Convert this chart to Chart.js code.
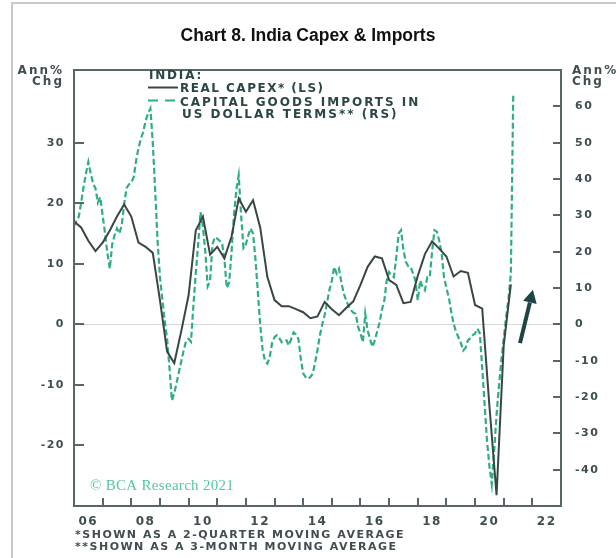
<!DOCTYPE html>
<html>
<head>
<meta charset="utf-8">
<script src="https://cdn.jsdelivr.net/npm/chart.js@4.4.1/dist/chart.umd.min.js"></script>
<style>
  html, body { margin: 0; padding: 0; background: #ffffff; }
  #wrap { position: relative; width: 616px; height: 558px; overflow: hidden; }
  #frame { position: absolute; left: 11px; top: 2px; width: 700px; height: 700px;
           border-left: 2px solid #c9c9c9; border-top: 2px solid #c9c9c9; }
  canvas { position: absolute; left: 0; top: 0; }
</style>
</head>
<body>
<div id="wrap">
  <div id="frame"></div>
  <canvas id="chart" width="616" height="558"></canvas>
</div>
<script>
// India real capex, % y/y, 2-quarter moving average, one value per quarter from Q1 2006
const capexStart = 2006;
const capexValues = [
  17.0, 16.0, 13.8, 12.1,   // 2006
  13.5, 15.5, 17.8, 19.8,   // 2007
  17.8, 13.5, 12.8, 11.8,   // 2008
  4.0, -4.5, -6.4, -1.0,    // 2009
  4.8, 15.5, 17.8, 11.5,    // 2010
  12.8, 10.9, 14.5, 20.8,   // 2011
  18.6, 20.5, 16.0, 7.8,    // 2012
  4.0, 3.0, 3.0, 2.5,       // 2013
  2.0, 1.0, 1.3, 3.7,       // 2014
  2.5, 1.5, 2.7, 3.8,       // 2015
  6.5, 9.5, 11.2, 10.9,     // 2016
  7.3, 6.5, 3.5, 3.7,       // 2017
  8.0, 11.6, 13.7, 12.5,    // 2018
  11.2, 7.9, 8.8, 8.5,      // 2019
  3.2, 2.6, -13.4, -28.2,   // 2020
  -3.5, 6.6                 // 2021
];

// Capital goods imports in US dollar terms, % y/y, 3-month moving average, monthly from Jan 2006
const importsStart = 2006;
const importsValues = [
  27, 28.5, 29.6, 33.5, 37.8, 41.5, 44.7, 41.5, 38.8, 37.4, 33.5, 35,        // 2006
  30, 25, 19.5, 15.3, 22, 24.5, 26.4, 25, 27.3, 33, 37.5, 38.5,              // 2007
  39, 40.5, 45, 48.5, 51, 53, 56, 58, 59.4, 50, 37, 23,                      // 2008
  13, 7, 1, -4, -12, -21, -19, -16, -13, -10, -7, -4.5,                      // 2009
  -4, -4.8, 5, 14, 22, 30.9, 27, 20, 10.5, 12, 22, 24,                       // 2010
  23.6, 23, 22.5, 18, 10, 11.5, 20, 30, 37, 41, 30, 21,                      // 2011
  22, 24.5, 26.4, 25, 18, 9, 0, -7, -10, -10.8, -9, -5,                      // 2012
  -3.5, -3, -3.8, -4.9, -4.5, -4.4, -5.8, -4, -2.2, -2.8, -4, -9.5,          // 2013
  -13.5, -14.5, -15, -14.5, -13.6, -10.5, -7, -3, 0, 2.5, 6, 9.5,            // 2014
  12, 15.8, 14, 15.3, 11.5, 8.5, 6.6, 5, 3.9, 3.2, 2.9, -0.7,                // 2015
  -2.5, -4.9, 2.9, -1.7, -4, -6.2, -4.4, -2, 0.5, 4, 6.6, 12,                // 2016
  14.4, 13.5, 13, 18.5, 25, 25.9, 20.4, 17.2, 16, 15.8, 14, 12.1,            // 2017
  6.6, 12.1, 10.3, 9.4, 13, 13, 20, 25.9, 25.5, 23, 19.5, 13,                // 2018
  10, 7.5, 3.5, 0.2, -2, -3.5, -5, -7.2, -6.5, -4.4, -3.8, -3.0,             // 2019
  -2.5, -1.2, -2.5, -12, -22, -32, -39, -44, -35, -25, -17, -10,             // 2020
  -4, 2, 7, 14, 63.6                                                          // 2021
];

// Axis ticks
const xLabelYears = [2006, 2008, 2010, 2012, 2014, 2016, 2018, 2020, 2022];
const xTickYears = [2007, 2008, 2009, 2010, 2011, 2012, 2013, 2014, 2015, 2016, 2017, 2018, 2019, 2020, 2021, 2022];
const leftTicks = [-20, -10, 0, 10, 20, 30];
const rightTicks = [-40, -30, -20, -10, 0, 10, 20, 30, 40, 50, 60];

const TEXT = '#3f4e50';
const DARK = '#2c4547';
const AXIS = '#56676a';
const GREEN = '#2fae7e';
const CAPEX = '#3a4646';
const tickFont = { family: 'DejaVu Sans', size: 11, weight: 'bold' };

const capexData = capexValues.map((v, i) => ({ x: capexStart + i / 4, y: v }));
const importsData = importsValues.map((v, i) => ({ x: importsStart + i / 12, y: v }));

function drawText(ctx, s, x, y, font, color, align, spacing) {
  ctx.save();
  ctx.font = font;
  ctx.fillStyle = color;
  ctx.textAlign = align;
  ctx.textBaseline = 'middle';
  if ('letterSpacing' in ctx) ctx.letterSpacing = spacing + 'px';
  ctx.fillText(s, x, y);
  ctx.restore();
}

const decorations = {
  id: 'decorations',
  beforeDraw(chart) {
    if ('letterSpacing' in chart.ctx) chart.ctx.letterSpacing = '1.5px';
  },
  afterDraw(chart) {
    const ctx = chart.ctx;
    if ('letterSpacing' in ctx) ctx.letterSpacing = '0px';
    const a = chart.chartArea;
    const xs = chart.scales.x, yl = chart.scales.y, yr = chart.scales.y1;

    // plot box
    ctx.save();
    ctx.strokeStyle = AXIS;
    ctx.lineWidth = 2;
    ctx.strokeRect(a.left, a.top, a.right - a.left, a.bottom - a.top);

    // inward tick marks
    ctx.lineWidth = 2;
    ctx.beginPath();
    leftTicks.forEach(v => {
      const y = Math.round(yl.getPixelForValue(v));
      ctx.moveTo(a.left, y); ctx.lineTo(a.left + 10, y);
    });
    rightTicks.forEach(v => {
      const y = Math.round(yr.getPixelForValue(v));
      ctx.moveTo(a.right - 8, y); ctx.lineTo(a.right, y);
    });
    xTickYears.forEach(v => {
      const x = Math.round(xs.getPixelForValue(v));
      ctx.moveTo(x, a.bottom); ctx.lineTo(x, a.bottom - 8);
    });
    ctx.stroke();

    // arrow pointing to the rebound
    const x0 = xs.getPixelForValue(2021.57), y0 = yl.getPixelForValue(-3.1);
    const x1 = xs.getPixelForValue(2022.02), y1 = yl.getPixelForValue(5.7);
    const ang = Math.atan2(y1 - y0, x1 - x0);
    const head = 13, half = 7;
    const bx = x1 - head * Math.cos(ang), by = y1 - head * Math.sin(ang);
    ctx.strokeStyle = '#1e4446';
    ctx.fillStyle = '#1e4446';
    ctx.lineWidth = 4;
    ctx.lineCap = 'butt';
    ctx.beginPath(); ctx.moveTo(x0, y0); ctx.lineTo(bx, by); ctx.stroke();
    ctx.beginPath();
    ctx.moveTo(x1, y1);
    ctx.lineTo(bx + half * Math.sin(ang), by - half * Math.cos(ang));
    ctx.lineTo(bx - half * Math.sin(ang), by + half * Math.cos(ang));
    ctx.closePath(); ctx.fill();

    // legend samples
    ctx.strokeStyle = CAPEX;
    ctx.lineWidth = 2;
    ctx.beginPath(); ctx.moveTo(148, 87.5); ctx.lineTo(178, 87.5); ctx.stroke();
    ctx.strokeStyle = GREEN;
    ctx.setLineDash([10, 7]);
    ctx.beginPath(); ctx.moveTo(148, 100.5); ctx.lineTo(176, 100.5); ctx.stroke();
    ctx.setLineDash([]);
    ctx.restore();

    const lf = 'bold 12px "DejaVu Sans"';
    drawText(ctx, 'INDIA:', 149, 76, lf, DARK, 'left', 1.8);
    drawText(ctx, 'REAL CAPEX* (LS)', 180, 89, lf, DARK, 'left', 1.5);
    drawText(ctx, 'CAPITAL GOODS IMPORTS IN', 180, 103, lf, DARK, 'left', 2);
    drawText(ctx, 'US DOLLAR TERMS** (RS)', 182, 114.5, lf, DARK, 'left', 2);

    // axis units
    drawText(ctx, 'Ann%', 64, 70.5, lf, TEXT, 'right', 2);
    drawText(ctx, 'Chg', 64, 82, lf, TEXT, 'right', 2);
    drawText(ctx, 'Ann%', 572, 70.5, lf, TEXT, 'left', 2);
    drawText(ctx, 'Chg', 572, 82, lf, TEXT, 'left', 2);

    // source
    drawText(ctx, '\u00A9 BCA Research 2021', a.left + 16, a.bottom - 20,
             '15px "Liberation Serif"', '#56c6a2', 'left', 0.3);

    // footnotes
    const ff = 'bold 11px "DejaVu Sans"';
    drawText(ctx, '*SHOWN AS A 2-QUARTER MOVING AVERAGE', 75, 535, ff, TEXT, 'left', 1.5);
    drawText(ctx, '**SHOWN AS A 3-MONTH MOVING AVERAGE', 75, 547, ff, TEXT, 'left', 1.5);

    // title
    drawText(ctx, 'Chart 8. India Capex & Imports', 308, 36,
             'bold 17.5px "Liberation Sans"', '#111111', 'center', 0);
  }
};

new Chart(document.getElementById('chart'), {
  type: 'line',
  data: {
    datasets: [
      {
        label: 'REAL CAPEX* (LS)',
        data: capexData,
        yAxisID: 'y',
        borderColor: CAPEX,
        borderWidth: 2,
        pointRadius: 0,
        tension: 0,
        fill: false
      },
      {
        label: 'CAPITAL GOODS IMPORTS IN US DOLLAR TERMS** (RS)',
        data: importsData,
        yAxisID: 'y1',
        borderColor: GREEN,
        borderWidth: 2.2,
        borderDash: [6, 3],
        pointRadius: 0,
        tension: 0,
        fill: false
      }
    ]
  },
  options: {
    responsive: false,
    animation: false,
    devicePixelRatio: 1,
    layout: { padding: { top: 70, left: 0, right: 0, bottom: 0 } },
    plugins: { legend: { display: false }, tooltip: { enabled: false }, title: { display: false } },
    scales: {
      x: {
        type: 'linear',
        position: 'bottom',
        min: 2006,
        max: 2023,
        afterBuildTicks: s => { s.ticks = xLabelYears.map(v => ({ value: v + 0.5 })); },
        afterFit: s => { s.height = 52; },
        ticks: {
          callback: v => String(Math.floor(v)).slice(2),
          font: { family: 'DejaVu Sans', size: 12, weight: 'bold' },
          color: TEXT,
          padding: 9,
          maxRotation: 0,
          autoSkip: false
        },
        grid: { display: false, drawTicks: false },
        border: { display: false }
      },
      y: {
        position: 'left',
        min: -30,
        max: 42,
        afterBuildTicks: s => { s.ticks = leftTicks.map(v => ({ value: v })); },
        afterFit: s => { s.width = 74; },
        ticks: { font: tickFont, color: TEXT, padding: 9, autoSkip: false },
        grid: {
          drawTicks: false,
          lineWidth: 1,
          color: c => (c.tick && c.tick.value === 0) ? '#d6d6d6' : 'rgba(0,0,0,0)'
        },
        border: { display: false }
      },
      y1: {
        position: 'right',
        min: -50,
        max: 70,
        afterBuildTicks: s => { s.ticks = rightTicks.map(v => ({ value: v })); },
        afterFit: s => { s.width = 55; },
        ticks: { font: tickFont, color: TEXT, padding: 14, autoSkip: false },
        grid: { display: false, drawTicks: false },
        border: { display: false }
      }
    }
  },
  plugins: [decorations]
});
</script>
</body>
</html>
